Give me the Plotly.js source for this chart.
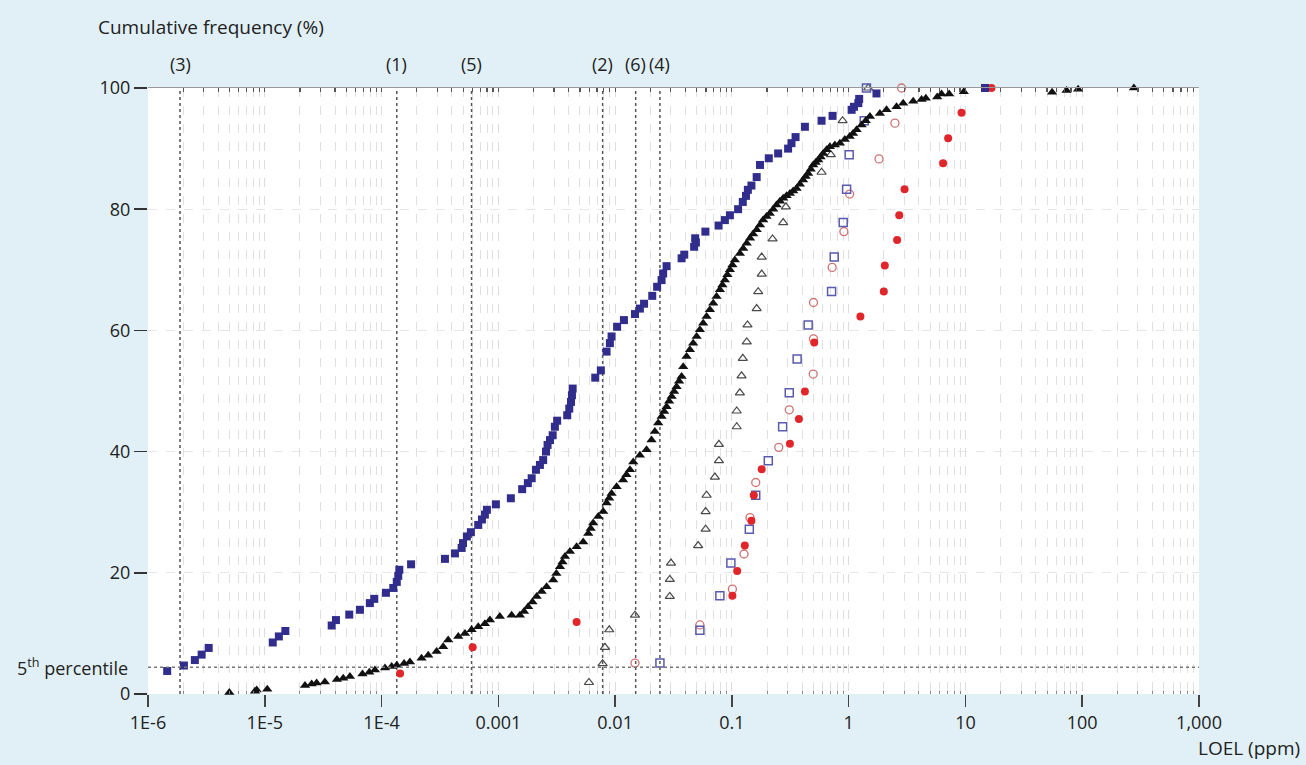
<!DOCTYPE html>
<html>
<head>
<meta charset="utf-8">
<script src="https://cdn.plot.ly/plotly-3.0.1.min.js"></script>
<style>
  html, body { margin: 0; padding: 0; background: #e1f0f6; }
  #chart { width: 1306px; height: 765px; }
</style>
</head>
<body>
<div id="chart"></div>
<script>
// ---------- data (LOEL in ppm, cumulative frequency in %) ----------
const blueFilledX = [1.46e-6,2.03e-6,2.52e-6,2.88e-6,3.31e-6,1.17e-5,1.32e-5,1.50e-5,3.74e-5,4.07e-5,5.29e-5,6.53e-5,7.94e-5,8.66e-5,
  1.09e-4,1.26e-4,1.35e-4,1.39e-4,1.42e-4,1.79e-4,3.49e-4,4.25e-4,4.85e-4,4.98e-4,5.38e-4,5.82e-4,6.73e-4,7.24e-4,7.67e-4,7.98e-4,9.53e-4,
  1.28e-3,1.60e-3,1.79e-3,1.93e-3,2.10e-3,2.27e-3,2.42e-3,2.56e-3,2.64e-3,2.77e-3,2.92e-3,3.05e-3,3.19e-3,3.89e-3,4.05e-3,4.19e-3,4.27e-3,4.33e-3,
  6.76e-3,7.55e-3,8.45e-3,9.02e-3,9.33e-3,1.04e-2,1.19e-2,1.48e-2,1.63e-2,1.77e-2,2.08e-2,2.29e-2,2.50e-2,2.58e-2,2.76e-2,3.71e-2,3.91e-2,
  4.75e-2,4.85e-2,4.92e-2,5.93e-2,7.69e-2,8.71e-2,9.62e-2,0.113,0.124,0.132,0.137,0.147,0.163,0.174,0.207,0.249,0.303,0.324,0.351,0.422,
  0.586,0.728,1.06,1.11,1.21,1.23,1.73,14.7];
const blueFilledY = [3.8,4.7,5.6,6.5,7.6,8.5,9.5,10.4,11.3,12.2,13.1,13.9,15.0,15.7,
  16.7,17.5,18.5,19.5,20.5,21.4,22.3,23.2,24.1,24.9,26.0,26.7,27.9,28.8,29.6,30.4,31.3,
  32.3,33.8,34.8,35.6,37.0,37.8,38.6,40.0,41.1,41.9,42.7,44.1,45.1,46.0,47.1,48.2,49.3,50.4,
  52.2,53.4,56.5,57.9,59.0,60.6,61.7,62.7,63.6,64.4,65.7,67.2,68.3,69.4,70.6,71.9,72.5,
  73.8,75.2,74.5,76.3,77.3,78.2,79.0,80.0,81.2,82.2,83.2,83.9,85.3,87.3,88.4,89.2,90.0,90.9,91.9,93.6,
  94.6,95.4,96.4,96.9,97.5,98.2,99.1,100];

const blackFilledX = [4.97e-6,8.24e-6,8.53e-6,1.05e-5,2.21e-5,2.52e-5,2.78e-5,3.27e-5,4.15e-5,4.70e-5,5.36e-5,6.86e-5,7.85e-5,8.78e-5,
  1.07e-4,1.22e-4,1.35e-4,1.56e-4,1.75e-4,2.20e-4,2.51e-4,2.96e-4,3.37e-4,3.72e-4,4.54e-4,5.18e-4,5.90e-4,6.73e-4,7.67e-4,8.47e-4,
  1.03e-3,1.30e-3,1.53e-3,1.66e-3,1.80e-3,1.96e-3,2.13e-3,2.35e-3,2.59e-3,2.95e-3,3.14e-3,3.37e-3,3.54e-3,3.72e-3,4.10e-3,4.68e-3,5.33e-3,
  5.89e-3,6.18e-3,6.49e-3,7.17e-3,7.91e-3,8.46e-3,8.89e-3,9.33e-3,
  1.03e-2,1.17e-2,1.25e-2,1.34e-2,1.43e-2,1.63e-2,1.86e-2,2.05e-2,2.19e-2,2.34e-2,2.50e-2,2.63e-2,2.76e-2,2.90e-2,3.05e-2,3.20e-2,3.36e-2,
  3.53e-2,3.71e-2,3.83e-2,4.09e-2,4.37e-2,4.66e-2,4.99e-2,5.32e-2,5.68e-2,6.07e-2,6.48e-2,6.92e-2,7.39e-2,7.89e-2,8.29e-2,8.71e-2,9.15e-2,9.62e-2,
  0.101,0.106,0.117,0.125,0.134,0.143,0.152,0.163,0.174,0.185,0.198,0.211,0.226,0.241,0.258,0.275,0.294,0.314,0.335,0.358,0.382,0.407,
  0.428,0.450,0.473,0.497,0.522,0.548,0.575,0.605,0.647,0.690,0.762,0.841,0.927,
  1.02,1.09,1.17,1.29,1.40,1.52,1.85,2.11,2.57,2.93,3.57,4.21,4.58,5.73,6.24,7.25,9.68,55.2,73.4,92.2,277];
const blackFilledY = [0.25,0.45,0.65,0.8,1.4,1.65,1.8,2.0,2.4,2.6,2.9,3.3,3.6,3.95,
  4.3,4.55,4.75,5.05,5.3,5.9,6.4,7.0,7.8,8.9,9.5,10.0,10.6,11.1,11.6,12.2,
  12.8,13.0,13.0,13.6,14.4,15.2,16.1,16.9,17.7,18.8,19.9,21.0,21.8,22.7,23.5,24.3,25.1,
  26.5,27.3,28.2,29.3,30.1,31.5,32.3,33.1,
  34.2,35.3,36.2,37.0,38.3,39.4,40.3,41.9,43.3,44.7,45.8,46.6,47.4,48.3,49.1,49.9,50.7,
  51.6,52.4,54.0,55.7,56.8,57.9,59.0,60.1,61.2,62.3,63.4,64.5,65.6,66.7,67.5,68.3,69.2,70.0,
  70.8,71.6,72.7,73.5,74.4,75.2,75.9,76.6,77.4,78.2,78.8,79.3,80.0,80.7,81.3,81.8,82.2,82.6,83.0,83.4,84.1,84.8,
  85.4,85.9,86.6,87.3,87.7,88.1,88.6,89.2,89.8,90.3,90.6,90.9,91.5,
  92.0,92.5,93.1,93.9,94.6,95.3,95.8,96.4,96.9,97.5,97.8,98.1,98.3,98.5,99.0,99.0,99.4,99.3,99.6,99.8,100];

const openTriX = [5.97e-3,7.82e-3,8.18e-3,8.91e-3,1.48e-2,2.94e-2,2.94e-2,3.01e-2,5.14e-2,5.96e-2,5.96e-2,6.07e-2,7.15e-2,7.74e-2,7.74e-2,
  0.110,0.110,0.117,0.121,0.124,0.134,0.136,0.163,0.168,0.180,0.180,0.223,0.275,0.290,0.586,0.704,0.887,1.47];
const openTriY = [1.9,5.0,7.7,10.6,13.0,16.1,18.9,21.6,24.5,27.2,30.1,32.8,35.8,38.5,41.2,
  44.1,46.7,49.7,52.5,55.4,58.1,60.9,63.6,66.4,69.3,72.1,75.1,77.8,80.4,86.1,89.0,94.6,100];

const openSqX = [2.42e-2,5.32e-2,7.89e-2,9.80e-2,0.141,0.160,0.205,0.272,0.310,0.362,0.450,0.714,0.752,0.898,0.960,1.01,1.36,1.42];
const openSqY = [5.1,10.5,16.2,21.6,27.2,32.8,38.5,44.1,49.7,55.3,60.9,66.4,72.1,77.8,83.3,89.0,94.6,100];

const openCircX = [1.48e-2,5.32e-2,0.101,0.127,0.143,0.160,0.252,0.310,0.497,0.50,0.50,0.722,0.910,1.02,1.82,2.49,2.84];
const openCircY = [5.1,11.4,17.3,23.1,29.1,34.9,40.7,46.9,52.8,58.6,64.6,70.4,76.3,82.5,88.3,94.2,100];

const redFilledX = [1.44e-4,6.03e-4,4.68e-3,0.101,0.111,0.129,0.147,0.154,0.180,0.314,0.375,0.422,0.507,1.26,2.00,2.04,2.60,2.71,3.01,6.44,7.11,9.26,16.7];
const redFilledY = [3.4,7.7,11.9,16.2,20.3,24.5,28.6,32.8,37.1,41.3,45.4,49.9,58.0,62.3,66.4,70.7,74.9,79.0,83.3,87.6,91.7,95.9,100];

// reference values (vertical dotted lines) and their labels
const refLabels = ['(3)','(1)','(5)','(2)','(6)','(4)'];
const refX = [1.88e-6,1.35e-4,5.90e-4,7.82e-3,1.50e-2,2.42e-2];
const fifthPct = 4.4;

// axis ticks
const xTickVals = [1e-6,1e-5,1e-4,1e-3,1e-2,1e-1,1,10,100,1000];
const xTickText = ['1E-6','1E-5','1E-4','0.001','0.01','0.1','1','10','100','1,000'];
const yTickVals = [0,20,40,60,80,100];

// ---------- build ----------
const minorVals = [];
xTickVals.slice(0,-1).forEach(d => { for (let k = 2; k <= 9; k++) minorVals.push(d*k); });
const allVals = xTickVals.concat(minorVals);

const FONT = 'Open Sans, Noto Sans, sans-serif';
const TXT = '#222';
const traces = [];

refX.forEach(v => traces.push({
  x:[v,v], y:[0,100], mode:'lines', xaxis:'x', yaxis:'y',
  line:{color:'#555', width:1.5, dash:'dot'}, hoverinfo:'skip', showlegend:false
}));
traces.push({
  x:[1e-6,1000], y:[fifthPct,fifthPct], mode:'lines', xaxis:'x2', yaxis:'y',
  line:{color:'#777', width:1.5, dash:'dot'}, hoverinfo:'skip', showlegend:false
});

function pts(x, y, symbol, color, size, lw) {
  return {x, y, mode:'markers', type:'scatter', cliponaxis:false, showlegend:false,
    marker:{symbol, color, size, line:{color, width:lw}}};
}
traces.push(pts(openTriX, openTriY, 'triangle-up-open', '#4a4a4a', 8, 1.2));
traces.push(pts(openCircX, openCircY, 'circle-open', '#cf7272', 8, 1.3));
traces.push(pts(openSqX, openSqY, 'square-open', '#5a5aae', 8, 1.5));
traces.push(pts(redFilledX, redFilledY, 'circle', '#e1262b', 8, 0));
traces.push(pts(blueFilledX, blueFilledY, 'square', '#302d8c', 8, 0));
traces.push(pts(blackFilledX, blackFilledY, 'triangle-up', '#111111', 9, 0));

const W = 1306, H = 765, L = 148, R = 107, T = 88, B = 71;
const pw = W - L - R, ph = H - T - B;
const px2paperX = px => (px - L) / pw;
const py2paperY = py => (H - B - py) / ph;

const annotations = [
  {text:'Cumulative frequency (%)', xref:'paper', yref:'paper', x:px2paperX(96), y:py2paperY(27),
   xanchor:'left', yanchor:'middle', showarrow:false, font:{family:FONT, size:19, color:TXT}},
  {text:'LOEL (ppm)', xref:'paper', yref:'paper', x:px2paperX(1302), y:py2paperY(748),
   xanchor:'right', yanchor:'middle', showarrow:false, font:{family:FONT, size:19, color:TXT}},
  {text:'5<sup>th</sup> percentile', xref:'paper', yref:'y', x:px2paperX(130), y:fifthPct,
   xanchor:'right', yanchor:'middle', showarrow:false, font:{family:FONT, size:18, color:TXT}}
];
refLabels.forEach((t, i) => annotations.push({
  text:t, xref:'x', yref:'paper', x:Math.log10(refX[i]), y:py2paperY(64),
  xanchor:'center', yanchor:'middle', showarrow:false, font:{family:FONT, size:18, color:TXT}
}));

const layout = {
  width:W, height:H,
  margin:{l:L, r:R, t:T, b:B, pad:0},
  paper_bgcolor:'#e1f0f6', plot_bgcolor:'#ffffff',
  font:{family:FONT, size:18, color:TXT},
  showlegend:false,
  xaxis:{
    type:'log', range:[-6,3], tickmode:'array', tickvals:xTickVals, ticktext:xTickText,
    ticks:'outside', ticklen:12, tickwidth:1.5, tickcolor:'#444',
    showline:false, zeroline:false,
    showgrid:true, gridcolor:'#dcdcdc', gridwidth:1, griddash:'dash',
    minor:{tickmode:'array', tickvals:minorVals, ticks:'inside', ticklen:3, tickwidth:1, tickcolor:'#888',
           showgrid:true, gridcolor:'#e0e0e0', gridwidth:1, griddash:'dash'},
    tickfont:{family:FONT, size:18, color:TXT}
  },
  xaxis2:{
    type:'log', range:[-6,3], overlaying:'x', side:'top', anchor:'y',
    tickmode:'array', tickvals:allVals, ticks:'inside', ticklen:4, tickwidth:1.2, tickcolor:'#555',
    showticklabels:false, showgrid:false, zeroline:false,
    showline:true, linecolor:'#999', linewidth:1
  },
  yaxis:{
    range:[0,100], tickmode:'array', tickvals:yTickVals,
    ticks:'outside', ticklen:13, tickwidth:1.5, tickcolor:'#333',
    showline:false, zeroline:false,
    showgrid:true, gridcolor:'#e6e6e6', gridwidth:1, griddash:'dash',
    tickfont:{family:FONT, size:18, color:TXT}
  },
  annotations
};

Plotly.newPlot('chart', traces, layout, {displayModeBar:false, staticPlot:true});
</script>
</body>
</html>
